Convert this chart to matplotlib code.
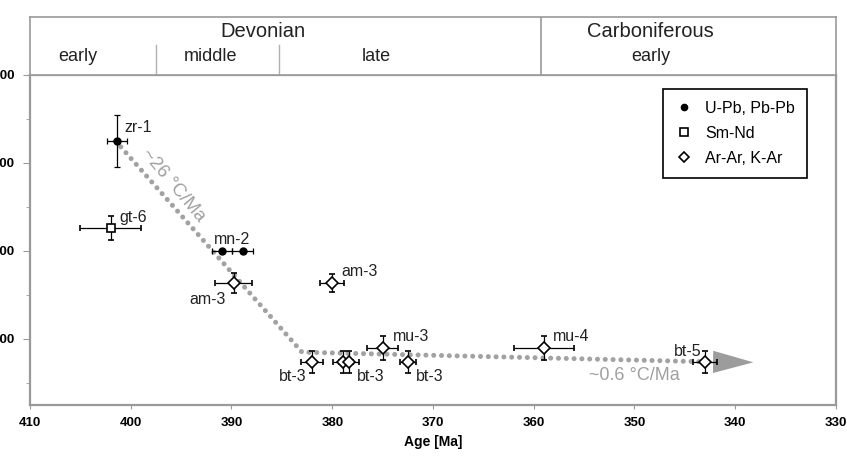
"""
Cooling path: closure temperature vs. age for the dated mineral samples,
with the Devonian / Carboniferous stratigraphy on top.
"""

import matplotlib
matplotlib.use('Agg')
import matplotlib.pyplot as plt
from matplotlib.lines import Line2D

plt.rcParams['font.family'] = ['Liberation Sans', 'DejaVu Sans']

# U-Pb, Pb-Pb (zircon, monazite)
upb_age  = [401.4, 390.9, 388.9]
upb_aerr = [1.0,   1.0,   1.0]
upb_temp = [850,   600,   600]
upb_terr = [58,    0,     0]

# Sm-Nd (garnet)
smnd_age  = [402.0]
smnd_aerr = [3.0]
smnd_temp = [652]
smnd_terr = [27]

# Ar-Ar, K-Ar (amphibole, muscovite, biotite)
arar_age  = [389.8, 380.0, 382.0, 378.9, 378.3, 375.0, 372.5, 359.0, 343.0]
arar_aerr = [1.8,   1.2,   1.1,   1.0,   1.0,   1.5,   0.8,   3.0,   1.2]
arar_temp = [527,   527,   348,   348,   348,   380,   348,   380,   348]
arar_terr = [22,    20,    25,    25,    25,    27,    25,    27,    25]

# sample tags: (name, age, temp, offset in pixels, alignment)
tags = [
    ('zr-1', 401.4, 850, (8, 13),   'left'),
    ('gt-6', 402.0, 652, (9, 11),   'left'),
    ('mn-2', 390.9, 600, (-8, 11),  'left'),
    ('am-3', 389.8, 527, (-8, -16), 'right'),
    ('am-3', 380.0, 527, (9, 12),   'left'),
    ('bt-3', 382.0, 348, (-6, -15), 'right'),
    ('bt-3', 378.3, 348, (8, -15),  'left'),
    ('mu-3', 375.0, 380, (10, 11),  'left'),
    ('bt-3', 372.5, 348, (8, -15),  'left'),
    ('mu-4', 359.0, 380, (9, 11),   'left'),
    ('bt-5', 343.0, 348, (-3, 10),  'right'),
]

# cooling trend (dotted) and arrow head
trend_age  = [401.5, 383.0, 342.5]
trend_temp = [850,   370,   348]
arrow_tip  = (338.2, 347)

# stratigraphy
periods       = ['Devonian', 'Carboniferous']
period_pos    = [386.9, 348.4]
period_bounds = [359.3]
epochs        = ['early', 'middle', 'late', 'early']
epoch_pos     = [405.3, 392.1, 375.6, 348.4]
epoch_bounds  = [397.5, 385.3]

fig = plt.figure(figsize=(8.47, 4.57), dpi=100)
ax   = fig.add_axes([0.0354, 0.1138, 0.9516, 0.7221])
band = fig.add_axes([0.0354, 0.8359, 0.9516, 0.1269], sharex=ax)

spine_col = '#9a9a9a'

# trend line
ax.plot(trend_age, trend_temp, color='#a2a2a2', lw=3.6,
        dashes=(0.01, 1.55), dash_capstyle='round', zorder=1)
ax.annotate('', xy=arrow_tip, xytext=(trend_age[-1], trend_temp[-1]),
            arrowprops=dict(arrowstyle='-|>,head_length=2.9,head_width=0.8',
                            color='#9c9c9c', lw=0, shrinkA=0, shrinkB=0),
            zorder=1)

eb = dict(ecolor='black', elinewidth=0.9, capsize=2.5, capthick=0.9,
          linestyle='none', zorder=3)
ax.errorbar(upb_age, upb_temp, xerr=upb_aerr, yerr=upb_terr,
            marker='o', ms=5, mfc='black', mec='black', **eb)
ax.errorbar(smnd_age, smnd_temp, xerr=smnd_aerr, yerr=smnd_terr,
            marker='s', ms=6, mfc='white', mec='black', mew=1.2, **eb)
ax.errorbar(arar_age, arar_temp, xerr=arar_aerr, yerr=arar_terr,
            marker='D', ms=6, mfc='white', mec='black', mew=1.2, **eb)

for name, a, t, off, ha in tags:
    ax.annotate(name, (a, t), xytext=off, textcoords='offset pixels',
                ha=ha, va='center', fontsize=11.5, color='#222222')

ax.text(395.8, 748, '~26 °C/Ma', rotation=-50, color='#a0a0a0',
        fontsize=13.5, ha='center', va='center', rotation_mode='anchor')
ax.text(350.0, 318, '~0.6 °C/Ma', color='#a0a0a0',
        fontsize=13, ha='center', va='center')

handles = [
    Line2D([], [], ls='none', marker='o', ms=4.5, mfc='black', mec='black'),
    Line2D([], [], ls='none', marker='s', ms=5.5, mfc='white', mec='black', mew=1.2),
    Line2D([], [], ls='none', marker='D', ms=5.5, mfc='white', mec='black', mew=1.2),
]
leg = ax.legend(handles, ['U-Pb, Pb-Pb', 'Sm-Nd', 'Ar-Ar, K-Ar'],
                loc='upper right', bbox_to_anchor=(0.964, 0.958),
                fontsize=11.5, fancybox=False, edgecolor='black',
                framealpha=1, handletextpad=0.7, handlelength=1.2,
                labelspacing=0.62, borderpad=0.75, borderaxespad=0)
leg.get_frame().set_linewidth(1.2)

ax.set_xlim(410, 330)
ax.set_ylim(250, 1000)
ax.set_xticks([410, 400, 390, 380, 370, 360, 350, 340, 330])
ax.set_yticks([400, 600, 800, 1000])
ax.set_yticks([300, 500, 700, 900], minor=True)
ax.tick_params(axis='both', which='both', direction='out', color=spine_col,
               labelsize=9.5, pad=3)
ax.tick_params(axis='y', which='major', length=5, pad=6)
ax.tick_params(axis='y', which='minor', length=3)
ax.tick_params(axis='x', length=3, pad=6)
for lab in ax.get_xticklabels() + ax.get_yticklabels():
    lab.set_fontweight('bold')
ax.set_xlabel('Age [Ma]', fontsize=10, fontweight='bold', labelpad=4)
for s in ax.spines.values():
    s.set_color(spine_col)
    s.set_linewidth(1.6)

# stratigraphic band
band.set_ylim(0, 1)
band.tick_params(left=False, bottom=False, labelleft=False, labelbottom=False)
for s in band.spines.values():
    s.set_color(spine_col)
    s.set_linewidth(1.2)
for b in period_bounds:
    band.axvline(b, color=spine_col, lw=1.2)
for b in epoch_bounds:
    band.axvline(b, ymin=0, ymax=0.52, color='#b0b0b0', lw=1.0)
for name, x in zip(periods, period_pos):
    band.text(x, 0.75, name, ha='center', va='center', fontsize=14.5,
              color='#222222')
for name, x in zip(epochs, epoch_pos):
    band.text(x, 0.32, name, ha='center', va='center', fontsize=13,
              color='#222222')

fig.savefig('out.png', dpi=100)
